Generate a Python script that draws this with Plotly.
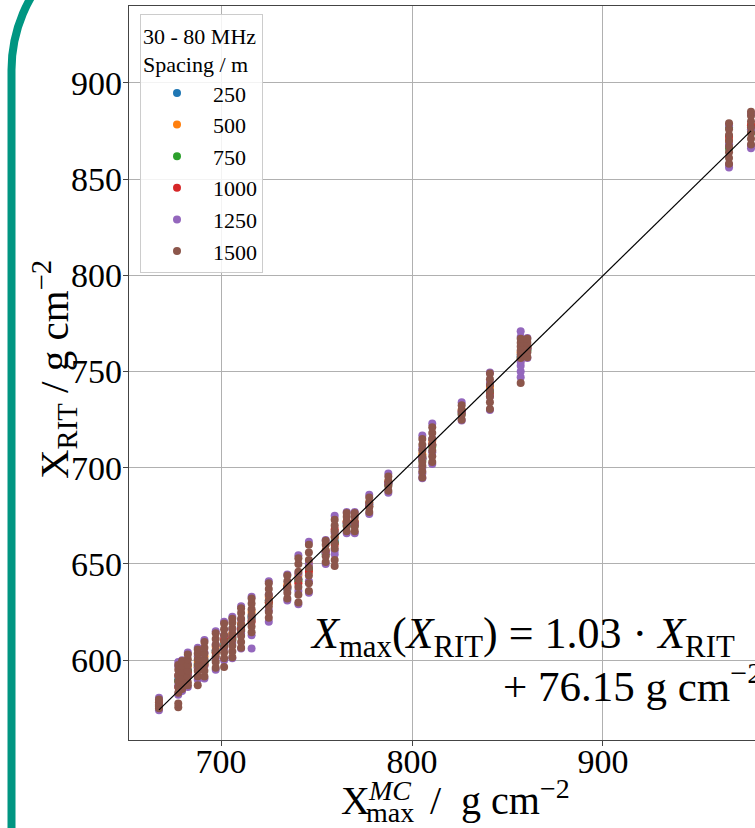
import plotly.graph_objects as go

# ---------------- data ----------------
X_MC = [667.5, 677.6, 679.6, 682.6, 687.8, 691.3, 697.2, 701.6, 705.9, 710.5,
        716.0, 725.0, 734.7, 740.5, 746.0, 754.8, 759.5, 765.8, 770.0, 777.6,
        787.6, 805.4, 810.6, 826.0, 840.8, 856.9, 860.4, 966.0, 977.5]

Y_250 = [[577], [590], [592], [595], [598], [600], [605], [609], [612], [617],
         [623], [631], [638], [642], [648], [656], [662], [671], [671], [681],
         [692], [705], [712], [729], [740], [758], [762], [868], [876]]
Y_500 = [[578], [592], [593], [597], [599], [602], [607], [610], [614], [619],
         [625], [633], [639], [644], [650], [657], [664], [672], [672], [682],
         [693], [707], [714], [730], [742], [760], [763], [870], [878]]
Y_750 = [[576], [589], [590], [594], [597], [599], [604], [607], [611], [615],
         [622], [630], [637], [641], [647], [655], [661], [670], [670], [680],
         [691], [704], [711], [728], [739], [757], [761], [866, 877], [874]]
Y_1000 = [[578], [586], [590], [593], [596], [598], [604], [611], [612], [616],
          [620], [630], [638], [640], [646], [656], [660, 668], [672], [671], [680],
          [692], [705], [712], [729], [738], [756], [762], [872], [878]]
Y_1250 = [[574, 577, 580.5], [582, 587, 592, 597, 599], [584, 590, 595, 600],
          [586, 592, 598, 604], [590, 596, 602, 606.5], [590.5, 597, 604, 610.5],
          [595, 601, 608, 615], [600, 606, 613, 620], [601, 609, 616, 622.5],
          [606, 614, 621, 628], [606, 613, 622, 633], [620, 626, 634, 641],
          [631, 637, 644.5], [629, 636, 645, 654.5], [635, 641, 650, 661.5],
          [650, 656, 662.5], [655, 657, 666, 675], [666, 671, 677], [666, 671, 677],
          [676, 681, 686], [687, 692, 697], [694.5, 697, 700, 705, 710, 716.8],
          [702, 708, 715, 723], [724.5, 729, 734], [730, 737, 744, 749.5],
          [747, 750, 753, 755, 768, 771], [757, 762, 767.5],
          [856, 857.5, 868, 878], [866, 867.5, 876, 884]]
Y_1500 = [[575, 576.5, 578, 579.5],
          [575.5, 577.5, 583, 586, 589, 592, 595, 597.5],
          [585, 588, 591, 594, 597, 599.5],
          [587, 588.5, 591.5, 594.5, 597.5, 600.5, 603],
          [587, 591.5, 594.5, 597.5, 600.5, 603.5, 605.5],
          [591.5, 594.5, 597.5, 600.5, 603.5, 606.5, 609.5],
          [596, 599, 602, 605, 608, 611, 614],
          [596.5, 601, 604, 607, 610, 613, 616, 619],
          [601.5, 604.5, 607.5, 610.5, 613.5, 616.5, 619.5, 621.5],
          [606.5, 609.5, 612.5, 615.5, 618.5, 621.5, 624.5, 627],
          [614.5, 617.5, 620.5, 623.5, 626.5, 629.5, 632],
          [622, 625, 628, 631, 634, 637, 640],
          [632, 635, 638, 641, 644],
          [630, 634, 638, 642, 646, 650, 653],
          [636, 640, 644, 648, 652, 656, 660],
          [651, 654, 657, 660, 662],
          [649, 652, 658, 661, 664, 667, 670, 673],
          [667, 669.5, 672, 674.5, 676.5],
          [667, 669.5, 672, 674.5, 676.5],
          [677, 679.5, 682, 684.5],
          [688, 690.5, 693, 695.5],
          [695, 698, 701, 703, 706, 709, 712, 715],
          [703, 706, 709, 712, 715, 718, 721],
          [725, 727.5, 730, 732.5],
          [730.5, 734, 737, 740, 743, 746, 749],
          [744, 757, 759, 761, 763, 765, 767],
          [757.5, 760, 762.5, 765, 767],
          [858, 861, 864, 867, 870, 873, 876, 879],
          [868, 871, 874, 877, 880, 883, 885]]

SPACINGS = ["250", "500", "750", "1000", "1250", "1500"]
SERIES = [Y_250, Y_500, Y_750, Y_1000, Y_1250, Y_1500]
COLORS = ["#1f77b4", "#ff7f0e", "#2ca02c", "#d62728", "#9467bd", "#8c564b"]

FIT_SLOPE = 1.03
FIT_OFFSET = 76.15

X_TICKS = [700, 800, 900]
Y_TICKS = [600, 650, 700, 750, 800, 850, 900]

FONT = "Liberation Serif"

# ---------------- figure ----------------
fig = go.Figure()

for name, series, color in zip(SPACINGS, SERIES, COLORS):
    xs, ys = [], []
    for xc, col in zip(X_MC, series):
        for v in col:
            xs.append(xc)
            ys.append(v)
    fig.add_trace(go.Scatter(x=xs, y=ys, mode="markers", name=name,
                             marker=dict(color=color, size=8, line=dict(width=0))))

# fit line X_RIT = (X_MC - offset) / slope
x_fit = [min(X_MC), max(X_MC)]
y_fit = [(v - FIT_OFFSET) / FIT_SLOPE for v in x_fit]
fig.add_trace(go.Scatter(x=x_fit, y=y_fit, mode="lines", showlegend=False,
                         line=dict(color="black", width=1.2)))

W, H = 755, 828
ML, MR, MT, MB = 129, 0, 6, 88
PW, PH = W - ML - MR, H - MT - MB


def px(x):
    return (x - ML) / PW


def py(y):
    return (H - MB - y) / PH


axis_common = dict(showgrid=True, gridcolor="#b0b0b0", gridwidth=1,
                   showline=True, linecolor="#444444", linewidth=1.2,
                   ticks="outside", ticklen=5, tickcolor="#444444",
                   tickfont=dict(family=FONT, size=34, color="black"),
                   zeroline=False)

fig.update_layout(
    width=W, height=H,
    margin=dict(l=ML, r=MR, t=MT, b=MB),
    paper_bgcolor="white", plot_bgcolor="white",
    xaxis=dict(range=[651.8, 979.6], tickvals=X_TICKS, mirror=True,
               ticklabelstandoff=-14, **axis_common),
    yaxis=dict(range=[558.5, 940.0], tickvals=Y_TICKS, ticklabelstandoff=-6,
               **axis_common),
    legend=dict(x=px(140), y=py(14), xanchor="left", yanchor="top",
                bgcolor="rgba(255,255,255,0.85)", bordercolor="#cccccc", borderwidth=1,
                itemwidth=62,
                font=dict(family=FONT, size=22, color="black"),
                title=dict(text="30 - 80 MHz<br>Spacing / m",
                           font=dict(family=FONT, size=22, color="black"))),
    showlegend=True,
)

# y axis title
fig.add_annotation(xref="paper", yref="paper", x=px(54), y=py(370),
                   text="X<sub>RIT</sub> / g cm<sup>−2</sup>", textangle=-90,
                   showarrow=False, xanchor="center", yanchor="middle",
                   font=dict(family=FONT, size=41, color="black"))

# x axis title (built from pieces so the sub/superscript stack)
title_font = dict(family=FONT, size=40, color="black")
small_font = dict(family=FONT, size=28, color="black")
fig.add_annotation(xref="paper", yref="paper", x=px(339), y=py(800), text="X",
                   showarrow=False, xanchor="left", yanchor="middle", font=title_font)
fig.add_annotation(xref="paper", yref="paper", x=px(364), y=py(812), text="max",
                   showarrow=False, xanchor="left", yanchor="middle", font=small_font)
fig.add_annotation(xref="paper", yref="paper", x=px(366), y=py(790), text="<i>MC</i>",
                   showarrow=False, xanchor="left", yanchor="middle", font=small_font)
fig.add_annotation(xref="paper", yref="paper", x=px(428), y=py(800), text="/  g cm",
                   showarrow=False, xanchor="left", yanchor="middle", font=title_font)
fig.add_annotation(xref="paper", yref="paper", x=px(538), y=py(788), text="−2",
                   showarrow=False, xanchor="left", yanchor="middle", font=small_font)

# white box behind the fit formula (covers grid only)
fig.add_shape(type="rect", xref="paper", yref="paper",
              x0=px(302), x1=px(800), y0=py(715), y1=py(600),
              fillcolor="white", line=dict(width=0), layer="between")

fig.add_annotation(xref="paper", yref="paper", x=px(737), y=py(636),
                   text=f"<i>X</i><sub>max</sub>(<i>X</i><sub>RIT</sub>) = {FIT_SLOPE:.2f} · <i>X</i><sub>RIT</sub>",
                   showarrow=False, xanchor="right", yanchor="middle",
                   font=dict(family=FONT, size=44, color="black"))
fig.add_annotation(xref="paper", yref="paper", x=px(764), y=py(683),
                   text=f"+ {FIT_OFFSET:.2f} g cm<sup>−2</sup>",
                   showarrow=False, xanchor="right", yanchor="middle",
                   font=dict(family=FONT, size=43, color="black"))

# teal slide border (rounded corner)
path = (f"M {px(11.5)},{py(860)} L {px(11.5)},{py(70)} "
        f"C {px(11.5)},{py(-10)} {px(76.4)},{py(-75)} {px(156.5)},{py(-75)}")
fig.add_shape(type="path", xref="paper", yref="paper", path=path,
              line=dict(color="#009682", width=8), layer="above")

fig.write_html("out.html", config={"displayModeBar": False},
               post_script="document.body.style.margin='0px';")
